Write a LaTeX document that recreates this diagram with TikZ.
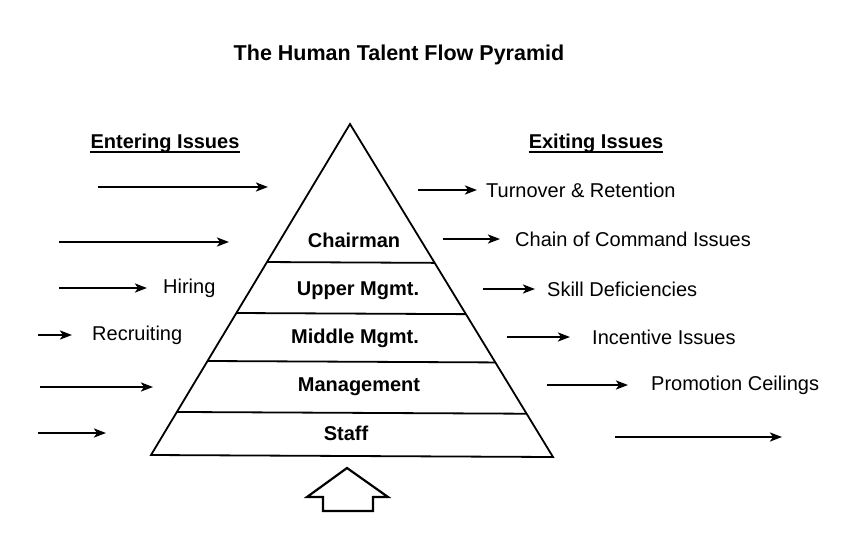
\documentclass[tikz,border=0pt]{standalone}
\usepackage{fontspec}
\setmainfont{Liberation Sans}
\usetikzlibrary{arrows.meta,positioning,calc}

\begin{document}
\begin{tikzpicture}[x=1pt,y=-1pt,>={Stealth[length=12pt,width=9pt,inset=3pt]},
		layer/.style={font=\fontsize{20}{24}\selectfont\bfseries,anchor=base,inner sep=0pt},
		issue/.style={font=\fontsize{20}{24}\selectfont,inner sep=0pt},
		heading/.style={font=\fontsize{20}{24}\selectfont\bfseries,inner sep=0pt},
		flow/.style={->,line width=2.2pt},
		side/.style={line width=1.8pt,line join=miter}]
		\useasboundingbox (0,0) rectangle (867,533);
		
		\node[heading,font=\fontsize{21.5}{26}\selectfont\bfseries] (title) at (399,55) {The Human Talent Flow Pyramid};
		
		% pyramid
		\coordinate (apex) at (350,124);
		\coordinate (bl)   at (151,455);
		\coordinate (br)   at (553,457);
		\draw[side] (apex) -- (bl) -- (br) -- cycle;
		\foreach \t in {0.417,0.571,0.716,0.870}
		\draw[side] ($(apex)!\t!(bl)$) -- ($(apex)!\t!(br)$);
		
		\node[layer] (chairman) at (354,247) {Chairman};
		\node[layer] (upper)    at (358,295) {Upper Mgmt.};
		\node[layer] (middle)   at (355,343) {Middle Mgmt.};
		\node[layer] (mgmt)     at (359,391) {Management};
		\node[layer] (staff)    at (346,440) {Staff};
		
		% block arrow under the base
		\draw[line width=2.2pt,line join=miter]
		(347,468) -- (307,497) -- (323,497) -- (323,511) -- (373,511)
		-- (373,497) -- (388,497) -- cycle;
		
		% entering side
		\node[heading] (enter) at (165,143) {Entering Issues};
		\draw[line width=1.5pt] ($(enter.base west)+(0,4)$) -- ($(enter.base east)+(0,4)$);
		
		\coordinate (l1s) at (98,187);  \coordinate (l1e) at (268,187);
		\coordinate (l2s) at (59,242);  \coordinate (l2e) at (229,242);
		\coordinate (l3s) at (59,288);  \coordinate (l3e) at (147,288);
		\coordinate (l4s) at (38,335);  \coordinate (l4e) at (72,335);
		\coordinate (l5s) at (40,387);  \coordinate (l5e) at (153,387);
		\coordinate (l6s) at (38,433);  \coordinate (l6e) at (106,433);
		\foreach \i in {1,...,6}
		\draw[flow] (l\i s) -- (l\i e);
		
		\node[issue] (hiring)     [right=16pt of l3e] {Hiring};
		\node[issue] (recruiting) [right=20pt of l4e] {Recruiting};
		
		% exiting side
		\node[heading] (exit) at (596,143) {Exiting Issues};
		\draw[line width=1.5pt] ($(exit.base west)+(0,4)$) -- ($(exit.base east)+(0,4)$);
		
		\coordinate (r1s) at (418,190); \coordinate (r1e) at (477,190);
		\coordinate (r2s) at (443,239); \coordinate (r2e) at (500,239);
		\coordinate (r3s) at (483,289); \coordinate (r3e) at (535,289);
		\coordinate (r4s) at (507,337); \coordinate (r4e) at (570,337);
		\coordinate (r5s) at (547,385); \coordinate (r5e) at (628,385);
		\coordinate (r6s) at (615,437); \coordinate (r6e) at (782,437);
		\foreach \i in {1,...,6}
		\draw[flow] (r\i s) -- (r\i e);
		
		\node[issue] (turnover)  [right=9pt of r1e]  {Turnover \& Retention};
		\node[issue] (chain)     [right=15pt of r2e] {Chain of Command Issues};
		\node[issue] (skill)     [right=12pt of r3e] {Skill Deficiencies};
		\node[issue] (incentive) [right=22pt of r4e] {Incentive Issues};
		\node[issue] (promotion) [right=23pt of r5e] {Promotion Ceilings};
\end{tikzpicture}
\end{document}
